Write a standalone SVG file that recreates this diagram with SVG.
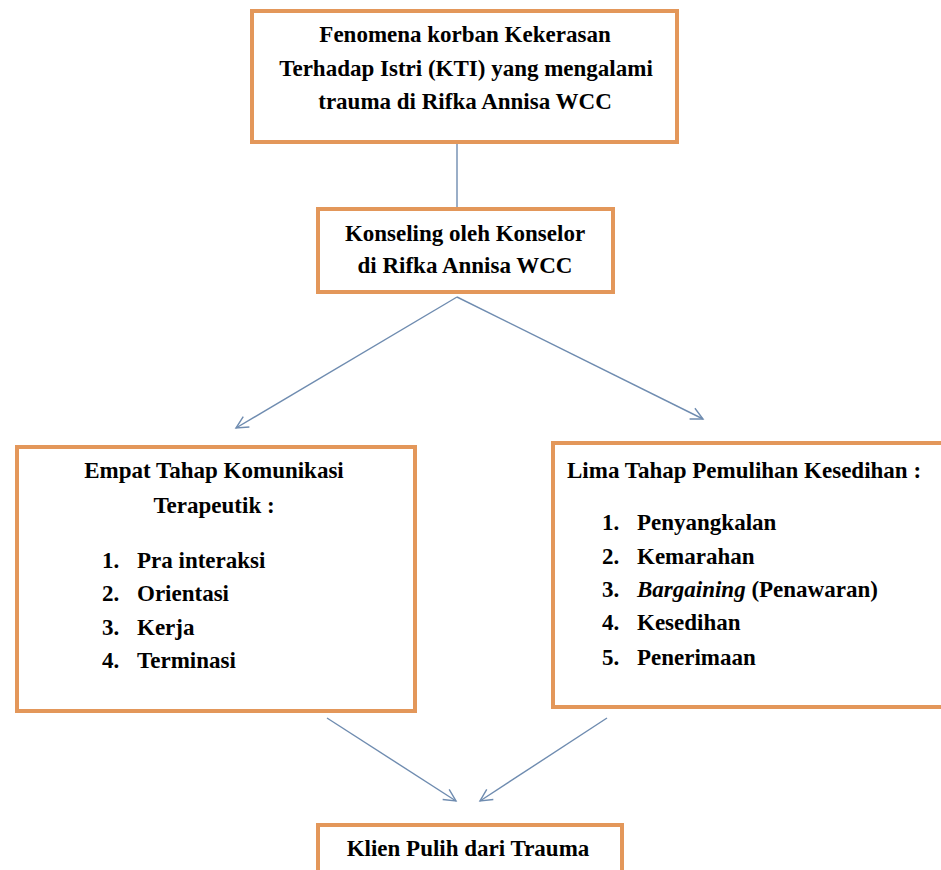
<svg xmlns="http://www.w3.org/2000/svg" width="941" height="870" viewBox="0 0 941 870">
<defs>
<marker id="ah" markerUnits="userSpaceOnUse" markerWidth="16" markerHeight="16" refX="13" refY="7" orient="auto">
<path d="M1,1 L13,7 L1,13" fill="none" stroke="#6F8CB0" stroke-width="1.4"/>
</marker>
</defs>
<rect width="941" height="870" fill="#ffffff"/>
<g id="connectors" stroke="#6F8CB0" stroke-width="1.4" fill="none">
<line x1="457" y1="144" x2="457" y2="209"/>
<line x1="457" y1="297" x2="236" y2="428" marker-end="url(#ah)"/>
<line x1="457" y1="297" x2="703" y2="419" marker-end="url(#ah)"/>
<line x1="327" y1="718" x2="456" y2="801" marker-end="url(#ah)"/>
<line x1="607" y1="718" x2="480" y2="801" marker-end="url(#ah)"/>
</g>
<g id="node-fenomena">
<rect x="252" y="11" width="425" height="131" fill="#ffffff" stroke="#E3975A" stroke-width="4"/>
<text x="465" y="42" text-anchor="middle" font-family="Liberation Serif" font-weight="bold" font-size="23">Fenomena korban Kekerasan</text>
<text x="466" y="76" text-anchor="middle" font-family="Liberation Serif" font-weight="bold" font-size="23">Terhadap Istri (KTI) yang mengalami</text>
<text x="465" y="109" text-anchor="middle" font-family="Liberation Serif" font-weight="bold" font-size="23">trauma di Rifka Annisa WCC</text>
</g>
<g id="node-konseling">
<rect x="318" y="209" width="295" height="83" fill="#ffffff" stroke="#E3975A" stroke-width="4"/>
<text x="465" y="241" text-anchor="middle" font-family="Liberation Serif" font-weight="bold" font-size="23">Konseling oleh Konselor</text>
<text x="465" y="273" text-anchor="middle" font-family="Liberation Serif" font-weight="bold" font-size="23">di Rifka Annisa WCC</text>
</g>
<g id="node-empat">
<rect x="17" y="447" width="398" height="264" fill="#ffffff" stroke="#E3975A" stroke-width="4"/>
<text x="214" y="478" text-anchor="middle" font-family="Liberation Serif" font-weight="bold" font-size="23">Empat Tahap Komunikasi</text>
<text x="214" y="513" text-anchor="middle" font-family="Liberation Serif" font-weight="bold" font-size="23">Terapeutik :</text>
<text x="102" y="568" font-family="Liberation Serif" font-weight="bold" font-size="23">1.</text>
<text x="137" y="568" font-family="Liberation Serif" font-weight="bold" font-size="23">Pra interaksi</text>
<text x="102" y="601" font-family="Liberation Serif" font-weight="bold" font-size="23">2.</text>
<text x="137" y="601" font-family="Liberation Serif" font-weight="bold" font-size="23">Orientasi</text>
<text x="102" y="635" font-family="Liberation Serif" font-weight="bold" font-size="23">3.</text>
<text x="137" y="635" font-family="Liberation Serif" font-weight="bold" font-size="23">Kerja</text>
<text x="102" y="668" font-family="Liberation Serif" font-weight="bold" font-size="23">4.</text>
<text x="137" y="668" font-family="Liberation Serif" font-weight="bold" font-size="23">Terminasi</text>
</g>
<g id="node-lima">
<rect x="553" y="443" width="400" height="264" fill="#ffffff" stroke="#E3975A" stroke-width="4"/>
<text x="567" y="478" font-family="Liberation Serif" font-weight="bold" font-size="23">Lima Tahap Pemulihan Kesedihan :</text>
<text x="602" y="530" font-family="Liberation Serif" font-weight="bold" font-size="23">1.</text>
<text x="637" y="530" font-family="Liberation Serif" font-weight="bold" font-size="23">Penyangkalan</text>
<text x="602" y="564" font-family="Liberation Serif" font-weight="bold" font-size="23">2.</text>
<text x="637" y="564" font-family="Liberation Serif" font-weight="bold" font-size="23">Kemarahan</text>
<text x="602" y="597" font-family="Liberation Serif" font-weight="bold" font-size="23">3.</text>
<text x="637" y="597" font-family="Liberation Serif" font-weight="bold" font-size="23"><tspan font-style="italic">Bargaining</tspan> (Penawaran)</text>
<text x="602" y="630" font-family="Liberation Serif" font-weight="bold" font-size="23">4.</text>
<text x="637" y="630" font-family="Liberation Serif" font-weight="bold" font-size="23">Kesedihan</text>
<text x="602" y="665" font-family="Liberation Serif" font-weight="bold" font-size="23">5.</text>
<text x="637" y="665" font-family="Liberation Serif" font-weight="bold" font-size="23">Penerimaan</text>
</g>
<g id="node-klien">
<rect x="318" y="825" width="304" height="60" fill="#ffffff" stroke="#E3975A" stroke-width="4"/>
<text x="468" y="856" text-anchor="middle" font-family="Liberation Serif" font-weight="bold" font-size="23">Klien Pulih dari Trauma</text>
</g>
</svg>
